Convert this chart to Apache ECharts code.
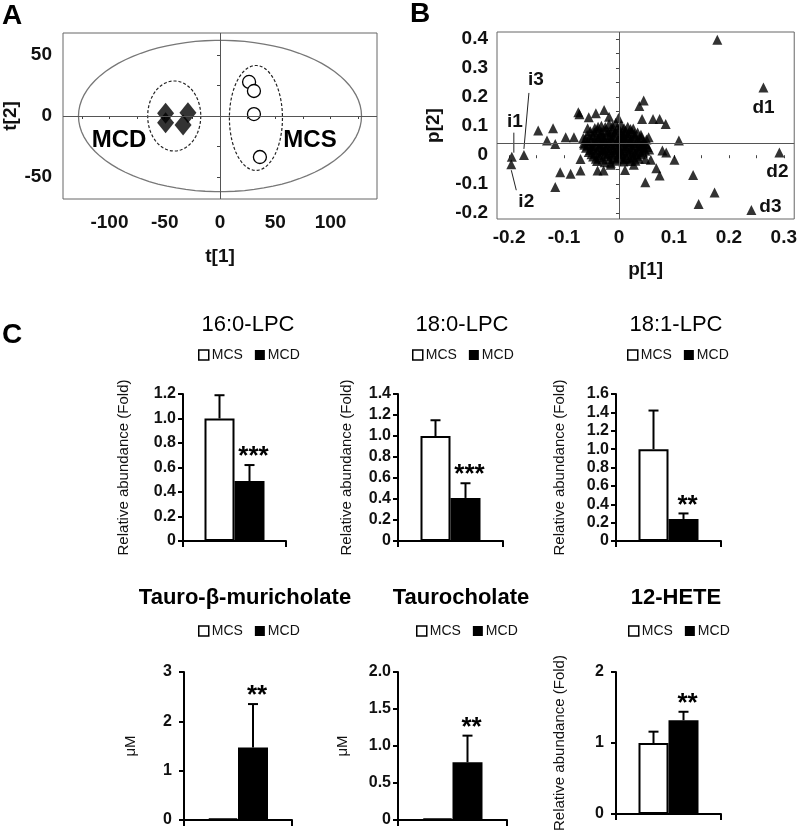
<!DOCTYPE html>
<html><head><meta charset="utf-8">
<script src="https://cdn.jsdelivr.net/npm/echarts@6/dist/echarts.min.js"></script>
<style>html,body{margin:0;padding:0;background:#fff}#c{width:800px;height:833px}</style>
</head><body><div id="c"></div>
<script>
// ---------------- DATA ----------------
// Panel A: PLS-DA score plot
const scoreMCD = [[-49.2, 2.2], [-49.2, -5.5], [-29.0, 2.7], [-33.4, -7.4]];
const scoreMCS = [[26.3, 27.9], [30.7, 20.5], [30.7, 1.6], [36.1, -33.6]];
// confidence ellipses: centre x, centre y, radius x, radius y (data units)
const scoreEllipses = [[0, 0, 128, 62], [-41.4, 0, 24, 28.7], [32.5, -1.6, 24, 43]];
const scoreXLabels = [-100, -50, 0, 50, 100];
const scoreXTicks = [-125, -100, -75, -50, -25, 0, 25, 50, 75, 100, 125];
const scoreYLabels = [-50, 0, 50];
const scoreYTicks = [-50, -25, 0, 25, 50];
const scoreGroupLabels = ['MCD', 'MCS'];

// Panel B: loading plot
const loadingsOuter = [
  [0.179, 0.398], [0.174, -0.129], [0.145, -0.168], [0.135, -0.068], [0.109, 0.051],
  [0.048, -0.093], [0.074, -0.070], [0.068, -0.045], [0.101, -0.016], [0.086, 0.009], [0.079, 0.016],
  [0.085, 0.108], [0.074, 0.125], [0.062, 0.125], [0.042, 0.125], [0.045, 0.189], [0.037, 0.170],
  [0.054, 0.062], [0.048, -0.013], [0.058, -0.016], [-0.147, 0.085], [-0.120, 0.093], [-0.131, 0.051],
  [-0.116, 0.039], [-0.097, 0.062], [-0.082, 0.062], [-0.107, -0.059], [-0.088, -0.064], [-0.116, -0.110],
  [-0.070, -0.053], [-0.070, -0.013], [-0.074, 0.148], [-0.072, 0.141], [-0.055, 0.131], [-0.042, 0.145],
  [-0.027, 0.156], [-0.018, 0.133], [-0.001, 0.128], [-0.057, 0.093], [-0.039, -0.053], [-0.028, -0.053],
  [-0.015, -0.033], [0.011, -0.051], [0.027, -0.033], [0.040, 0.033], [0.045, 0.039], [-0.063, 0.036],
  [-0.065, 0.059]
];
const loadingsCluster = [
  [-0.032, 0.102], [-0.018, 0.108], [-0.006, 0.112], [0.004, 0.104], [0.016, 0.098], [-0.044, 0.094], [0.026, 0.092],
  [-0.052, 0.083], [-0.039, 0.088], [-0.025, 0.086], [-0.012, 0.090], [0.001, 0.087], [0.012, 0.084], [0.023, 0.081], [0.034, 0.078],
  [-0.058, 0.071], [-0.047, 0.068], [-0.033, 0.073], [-0.021, 0.069], [-0.008, 0.074], [0.005, 0.071], [0.017, 0.067], [0.029, 0.066], [0.041, 0.062],
  [-0.061, 0.055], [-0.050, 0.052], [-0.038, 0.058], [-0.027, 0.054], [-0.014, 0.057], [-0.002, 0.053], [0.009, 0.056], [0.021, 0.052], [0.033, 0.050], [0.045, 0.047],
  [-0.064, 0.041], [-0.054, 0.038], [-0.042, 0.043], [-0.030, 0.039], [-0.018, 0.042], [-0.006, 0.038], [0.006, 0.041], [0.018, 0.037], [0.030, 0.035], [0.042, 0.033], [0.052, 0.028],
  [-0.060, 0.026], [-0.048, 0.022], [-0.036, 0.027], [-0.024, 0.023], [-0.011, 0.026], [0.001, 0.022], [0.013, 0.025], [0.025, 0.021], [0.037, 0.019], [0.048, 0.015],
  [-0.055, 0.011], [-0.043, 0.007], [-0.031, 0.012], [-0.019, 0.008], [-0.007, 0.011], [0.005, 0.006], [0.017, 0.009], [0.029, 0.005], [0.040, 0.003],
  [-0.047, -0.004], [-0.035, -0.008], [-0.022, -0.003], [-0.010, -0.007], [0.002, -0.004], [0.014, -0.009], [0.026, -0.006], [0.036, -0.012],
  [-0.040, -0.020], [-0.026, -0.024], [-0.005, -0.019], [0.008, -0.022], [0.021, -0.020], [-0.015, -0.026],
  [-0.028, 0.047], [-0.016, 0.063], [-0.004, 0.046], [0.008, 0.063], [0.012, 0.031], [-0.022, 0.031], [-0.010, 0.017],
  [0.003, 0.014], [-0.034, 0.063], [0.020, 0.045], [-0.045, 0.030], [0.035, 0.027], [-0.003, 0.095], [-0.015, 0.078],
  [0.010, 0.077], [-0.027, 0.016],
  [-0.038, 0.098], [-0.025, 0.097], [-0.012, 0.101], [0.009, 0.094], [0.021, 0.090],
  [-0.045, 0.079], [-0.032, 0.080], [-0.020, 0.082], [-0.006, 0.081], [0.006, 0.078], [0.018, 0.076], [0.028, 0.074], [0.040, 0.071],
  [-0.053, 0.062], [-0.041, 0.065], [-0.028, 0.061], [-0.009, 0.064], [0.002, 0.061], [0.015, 0.060], [0.027, 0.058], [0.038, 0.056], [0.050, 0.054],
  [-0.057, 0.047], [-0.045, 0.048], [-0.034, 0.049], [-0.021, 0.050], [-0.009, 0.047], [0.003, 0.048], [0.014, 0.046], [0.026, 0.043], [0.037, 0.042], [0.049, 0.038],
  [-0.057, 0.033], [-0.048, 0.031], [-0.035, 0.034], [-0.015, 0.034], [-0.002, 0.031], [0.007, 0.030], [0.024, 0.029], [0.045, 0.024], [0.055, 0.020],
  [-0.052, 0.018], [-0.039, 0.017], [-0.030, 0.020], [-0.017, 0.018], [-0.003, 0.019], [0.009, 0.016], [0.021, 0.015], [0.032, 0.012], [0.044, 0.009],
  [-0.050, 0.003], [-0.037, 0.001], [-0.025, 0.004], [-0.013, 0.002], [-0.001, 0.003], [0.011, 0.000], [0.023, 0.001], [0.033, -0.002],
  [-0.042, -0.012], [-0.030, -0.015], [-0.017, -0.013], [-0.004, -0.011], [0.009, -0.014], [0.020, -0.012], [0.030, -0.019]
];
const loadingsNamed = ['i1', 'i2', 'i3', 'd1', 'd2', 'd3'];
const loadingsNamedXY = [[-0.195, -0.005], [-0.196, -0.031], [-0.173, 0.001], [0.263, 0.234], [0.292, 0.009], [0.241, -0.189]];
const loadingsXLabels = [-0.2, -0.1, 0, 0.1, 0.2, 0.3];
const loadingsXTicks = [-0.2, -0.15, -0.1, -0.05, 0, 0.05, 0.1, 0.15, 0.2, 0.25, 0.3];
const loadingsYLabels = [-0.2, -0.1, 0, 0.1, 0.2, 0.3, 0.4];
const loadingsYTicks = [-0.2, -0.15, -0.1, -0.05, 0, 0.05, 0.1, 0.15, 0.2, 0.25, 0.3, 0.35, 0.4];
const loadingsRefY = 0.035;

// Panel C: bar charts
const groups = ['MCS', 'MCD'];
const barTitles = ['16:0-LPC', '18:0-LPC', '18:1-LPC', 'Tauro-β-muricholate', 'Taurocholate', '12-HETE'];
const valMCS = [1.0, 1.0, 1.0, 0.03, 0.02, 1.0];
const errMCS = [1.19, 1.15, 1.42, null, null, 1.16];
const valMCD = [0.49, 0.41, 0.24, 1.47, 0.78, 1.32];
const errMCD = [0.62, 0.55, 0.30, 2.35, 1.14, 1.44];
const stars = ['***', '***', '**', '**', '**', '**'];
const barYMax = [1.2, 1.4, 1.6, 3, 2, 2];
const barYStep = [0.2, 0.2, 0.2, 1, 0.5, 1];
const barYNames = ['Relative abundance (Fold)', 'Relative abundance (Fold)', 'Relative abundance (Fold)', 'μM', 'μM', 'Relative abundance (Fold)'];

// ---------------- LAYOUT / STYLE ----------------
const FONT = 'Liberation Sans, Arial, Helvetica, sans-serif';
const BAR_W = 30, CAP = 5, STAR_DX = 4, STAR_DY = 8;
// label offsets (px) relative to the point, and leader line start/end offsets
const namedLabelOffset = [[3, -35], [15, 38], [12, -75], [0, 20], [-2, 19], [19, -3]];
const namedLeader = [[[2, -24], [2, -4]], [[0, 6], [5, 26]], [[5, -62], [0, -6]], null, null, null];
const barGrid = [
  {left: 183, top: 394, width: 103, height: 147},
  {left: 398, top: 394, width: 105, height: 147},
  {left: 616, top: 394, width: 105, height: 147},
  {left: 184, top: 672, width: 108, height: 148},
  {left: 398, top: 672, width: 109, height: 148},
  {left: 616, top: 672, width: 105, height: 148}
];
const barNameGap = [52, 44, 49, 46, 48, 49];
const barLabelMargin = [7, 7, 7, 12, 7, 12];
const titlePos = [[248, 325], [462, 325], [676, 325], [245, 598], [461, 598], [676, 598]];
const legendPos = [[198, 348], [412, 348], [627, 348], [198, 624], [416, 624], [628, 624]];

function fmt(v, d) {
  if (Math.abs(v) < 1e-9) return '0';
  return d == null ? String(+v.toFixed(3)) : v.toFixed(d);
}

const chart = echarts.init(document.getElementById('c'), null, {renderer: 'canvas'});

const grids = [
  {left: 58, top: 33, width: 319, height: 166, show: true, borderColor: '#666', borderWidth: 1},
  {left: 497, top: 32, width: 302, height: 187, show: true, borderColor: '#666', borderWidth: 1}
];
const axisTitle = {fontSize: 19, fontWeight: 'bold', color: '#111', fontFamily: FONT};
const xAxes = [
  {gridIndex: 0, type: 'value', min: -142, max: 142, axisLine: {show: false},
   axisTick: {show: true, customValues: scoreXTicks, length: 3, lineStyle: {color: '#444'}},
   axisLabel: {customValues: scoreXLabels, fontSize: 19, fontWeight: 'bold', color: '#111', fontFamily: FONT, margin: 14},
   splitLine: {show: false},
   name: 't[1]', nameLocation: 'middle', nameGap: 48, nameTextStyle: axisTitle},
  {gridIndex: 1, type: 'value', min: -0.222, max: 0.319, axisLine: {show: false},
   axisTick: {show: true, customValues: loadingsXTicks, length: 3, lineStyle: {color: '#444'}},
   axisLabel: {customValues: loadingsXLabels, formatter: v => fmt(v), fontSize: 19, fontWeight: 'bold', color: '#111', fontFamily: FONT, margin: 9},
   splitLine: {show: false},
   name: 'p[1]', nameLocation: 'middle', nameGap: 41, nameTextStyle: axisTitle}
];
const yAxes = [
  {gridIndex: 0, type: 'value', min: -68, max: 68, axisLine: {show: false},
   axisTick: {show: true, customValues: scoreYTicks, length: 3, lineStyle: {color: '#444'}},
   axisLabel: {customValues: scoreYLabels, fontSize: 19, fontWeight: 'bold', color: '#111', fontFamily: FONT, margin: 11},
   splitLine: {show: false},
   name: 't[2]', nameLocation: 'middle', nameGap: 43, nameTextStyle: axisTitle},
  {gridIndex: 1, type: 'value', min: -0.22, max: 0.425, axisLine: {show: false},
   axisTick: {show: true, customValues: loadingsYTicks, length: 3, lineStyle: {color: '#444'}},
   axisLabel: {customValues: loadingsYLabels, formatter: v => fmt(v), fontSize: 19, fontWeight: 'bold', color: '#111', fontFamily: FONT, margin: 9},
   splitLine: {show: false},
   name: 'p[2]', nameLocation: 'middle', nameGap: 54, nameTextStyle: axisTitle}
];

const crossLine = {color: '#555', width: 1, type: 'solid'};
const series = [
  {type: 'custom', name: 'ellipses', xAxisIndex: 0, yAxisIndex: 0, data: scoreEllipses, encode: {x: 0, y: 1}, silent: true, clip: false, z: 1,
   renderItem: (params, api) => {
     const c = api.coord([api.value(0), api.value(1)]);
     const s = api.size([api.value(2), api.value(3)]);
     const pts = [];
     for (let i = 0; i <= 90; i++) { const t = i / 90 * Math.PI * 2; pts.push([c[0] + s[0] * Math.cos(t), c[1] + s[1] * Math.sin(t)]); }
     const outer = params.dataIndex === 0;
     return {type: 'polyline', shape: {points: pts}, style: {stroke: outer ? '#777' : '#222', lineWidth: outer ? 1.3 : 1.2, lineDash: outer ? null : [3, 2], fill: null}};
   }},
  {type: 'scatter', name: 'MCD scores', xAxisIndex: 0, yAxisIndex: 0, data: scoreMCD, symbol: 'diamond', symbolSize: [17, 21],
   itemStyle: {color: '#000'}, z: 3,
   markLine: {silent: true, symbol: 'none', label: {show: false}, lineStyle: crossLine, data: [{xAxis: 0}, {yAxis: 0}]}},
  {type: 'scatter', name: 'MCS scores', xAxisIndex: 0, yAxisIndex: 0, data: scoreMCS, symbol: 'circle', symbolSize: 13,
   itemStyle: {color: '#fff', borderColor: '#000', borderWidth: 1.3, opacity: 1}, z: 3},
  {type: 'scatter', name: 'loadings', xAxisIndex: 1, yAxisIndex: 1,
   data: loadingsOuter.concat(loadingsCluster, loadingsNamedXY), symbol: 'triangle', symbolSize: 10,
   itemStyle: {color: '#000'}, z: 3,
   markLine: {silent: true, symbol: 'none', label: {show: false}, lineStyle: crossLine, data: [{xAxis: 0}, {yAxis: loadingsRefY}]}},
  {type: 'custom', name: 'loading labels', xAxisIndex: 1, yAxisIndex: 1, data: loadingsNamedXY, encode: {x: 0, y: 1},
   silent: true, clip: false, z: 4,
   renderItem: (params, api) => {
     const i = params.dataIndex;
     const p = api.coord([api.value(0), api.value(1)]);
     const off = namedLabelOffset[i];
     const children = [{type: 'text', x: p[0] + off[0], y: p[1] + off[1],
       style: {text: loadingsNamed[i], fontSize: 19, fontWeight: 'bold', fontFamily: FONT, fill: '#111', align: 'center', verticalAlign: 'middle'}}];
     const ld = namedLeader[i];
     if (ld) children.push({type: 'line', shape: {x1: p[0] + ld[0][0], y1: p[1] + ld[0][1], x2: p[0] + ld[1][0], y2: p[1] + ld[1][1]},
       style: {stroke: '#222', lineWidth: 1}});
     return {type: 'group', children};
   }}
];

const legends = [];
const graphics = [
  {type: 'text', left: 2, top: 2, style: {text: 'A', fontSize: 28, fontWeight: 'bold', fontFamily: FONT, fill: '#000'}},
  {type: 'text', left: 410, top: 0, style: {text: 'B', fontSize: 28, fontWeight: 'bold', fontFamily: FONT, fill: '#000'}},
  {type: 'text', left: 2, top: 321, style: {text: 'C', fontSize: 28, fontWeight: 'bold', fontFamily: FONT, fill: '#000'}},
  {type: 'text', x: 119, y: 140, style: {text: scoreGroupLabels[0], fontSize: 24, fontWeight: 'bold', fontFamily: FONT, fill: '#000', align: 'center', verticalAlign: 'middle'}},
  {type: 'text', x: 310, y: 140, style: {text: scoreGroupLabels[1], fontSize: 24, fontWeight: 'bold', fontFamily: FONT, fill: '#000', align: 'center', verticalAlign: 'middle'}}
];

barTitles.forEach((title, k) => {
  const gi = k + 2;
  grids.push(Object.assign({containLabel: false}, barGrid[k]));
  xAxes.push({gridIndex: gi, type: 'category', data: [''], boundaryGap: true,
    axisLine: {show: true, lineStyle: {color: '#000', width: 2}},
    axisTick: {show: true, length: 6, inside: false, lineStyle: {color: '#000', width: 2}},
    axisLabel: {show: false}, splitLine: {show: false}});
  yAxes.push({gridIndex: gi, type: 'value', min: 0, max: barYMax[k], interval: barYStep[k],
    axisLine: {show: true, lineStyle: {color: '#000', width: 2}},
    axisTick: {show: true, length: 5, lineStyle: {color: '#000', width: 2}},
    axisLabel: {formatter: v => fmt(v, barYStep[k] < 1 ? 1 : 0), fontSize: 16, fontWeight: 'bold', color: '#111', fontFamily: FONT, margin: barLabelMargin[k]},
    splitLine: {show: false},
    name: barYNames[k], nameLocation: 'middle', nameGap: barNameGap[k],
    nameTextStyle: {fontSize: 15, color: '#111', fontFamily: FONT}});
  series.push(
    {type: 'bar', name: groups[0], xAxisIndex: gi, yAxisIndex: gi, data: [valMCS[k]], barWidth: BAR_W, barGap: '0%',
     itemStyle: {color: '#fff', borderColor: '#000', borderWidth: 2}, silent: true},
    {type: 'bar', name: groups[1], xAxisIndex: gi, yAxisIndex: gi, data: [valMCD[k]], barWidth: BAR_W, barGap: '0%',
     itemStyle: {color: '#000', borderColor: '#000', borderWidth: 2}, silent: true},
    {type: 'custom', name: 'err' + k, xAxisIndex: gi, yAxisIndex: gi, silent: true, clip: false, z: 5,
     data: [[0, valMCS[k], errMCS[k] == null ? '-' : errMCS[k]], [0, valMCD[k], errMCD[k] == null ? '-' : errMCD[k]]],
     encode: {x: 0, y: [1, 2]},
     renderItem: (params, api) => {
       const err = api.value(2);
       if (err == null || isNaN(err)) return null;
       const side = params.dataIndex === 0 ? -1 : 1;
       const b = api.coord([0, api.value(1)]);
       const t = api.coord([0, err]);
       const x = b[0] + side * BAR_W / 2;
       const children = [
         {type: 'line', shape: {x1: x, y1: b[1], x2: x, y2: t[1]}, style: {stroke: '#000', lineWidth: 2}},
         {type: 'line', shape: {x1: x - CAP, y1: t[1], x2: x + CAP, y2: t[1]}, style: {stroke: '#000', lineWidth: 2}}
       ];
       if (side === 1) {
         children.push({type: 'text', x: x + STAR_DX, y: t[1] - STAR_DY,
           style: {text: stars[k], fontSize: 26, fontWeight: 'bold', fontFamily: FONT, fill: '#000', align: 'center', verticalAlign: 'middle'}});
       }
       return {type: 'group', children};
     }}
  );
  legends.push({left: legendPos[k][0], top: legendPos[k][1], padding: 0, itemWidth: 10, itemHeight: 10, itemGap: 12,
    selectedMode: false, icon: 'rect',
    textStyle: {fontSize: 14, fontFamily: FONT, color: '#111', padding: [0, 0, 0, -2]},
    data: [{name: groups[0], itemStyle: {color: '#fff', borderColor: '#000', borderWidth: 1.5}},
           {name: groups[1], itemStyle: {color: '#000', borderColor: '#000', borderWidth: 0}}]});
  graphics.push({type: 'text', x: titlePos[k][0], y: titlePos[k][1],
    style: {text: title, fontSize: 22, fontWeight: k < 3 ? 'normal' : 'bold', fontFamily: FONT, fill: '#000', align: 'center', verticalAlign: 'middle'}});
});

chart.setOption({
  animation: false,
  backgroundColor: '#fff',
  textStyle: {fontFamily: FONT},
  grid: grids, xAxis: xAxes, yAxis: yAxes, series: series, legend: legends, graphic: graphics
});
</script></body></html>
